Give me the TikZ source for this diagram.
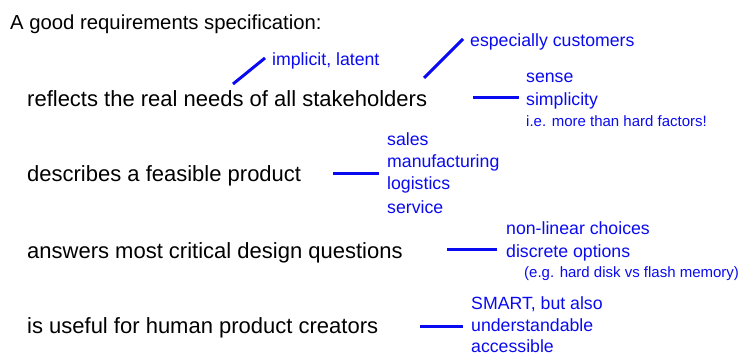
\documentclass[tikz,border=0pt]{standalone}
\usepackage{fontspec}
\setmainfont{Liberation Sans}
\definecolor{notecol}{RGB}{10,10,240}
\begin{document}
\begin{tikzpicture}[x=1pt,y=-1pt,
  title/.style={anchor=base west,inner sep=0pt,font=\fontsize{20.3}{24}\selectfont,text=black},
  main/.style={anchor=base west,inner sep=0pt,font=\fontsize{22}{26}\selectfont,text=black},
  note/.style={anchor=base west,inner sep=0pt,font=\fontsize{17.7}{22}\selectfont,text=notecol},
  small/.style={anchor=base west,inner sep=0pt,font=\fontsize{15}{18}\selectfont,text=notecol},
  link/.style={draw=notecol,line width=3pt}]
\useasboundingbox (0,0) rectangle (738,356);

\node[title] (title) at (10,29) {A good requirements specification:};

\node[main] (r1) at (27,106) {reflects the real needs of all stakeholders};
\node[main] (r2) at (27,181) {describes a feasible product};
\node[main] (r3) at (27,258) {answers most critical design questions};
\node[main] (r4) at (27,333) {is useful for human product creators};

\node[note] (implicit) at (272,65) {implicit, latent};
\node[note] (especially) at (470,46) {especially customers};
\node[note] (sense) at (526,82) {sense};
\node[note] (simplicity) at (526,105) {simplicity};
\node[small] (ie) at (526,126) {i.e. more than hard factors!};

\node[note] (sales) at (387,145) {sales};
\node[note] (manufacturing) at (387,167) {manufacturing};
\node[note] (logistics) at (387,189) {logistics};
\node[note] (service) at (387,213) {service};

\node[note] (nonlinear) at (506,234) {non-linear choices};
\node[note] (discrete) at (506,257) {discrete options};
\node[small] (eg) at (524,277) {(e.g. hard disk vs flash memory)};

\node[note] (smart) at (471,309) {SMART, but also};
\node[note] (understandable) at (471,331) {understandable};
\node[note] (accessible) at (471,352) {accessible};

\coordinate (a1) at (233,84);  \coordinate (a2) at (265,58);
\coordinate (b1) at (424,78);  \coordinate (b2) at (463,39);
\coordinate (c1) at (473,97);  \coordinate (c2) at (519,97);
\coordinate (d1) at (333,173); \coordinate (d2) at (379,173);
\coordinate (e1) at (447,249); \coordinate (e2) at (497,249);
\coordinate (f1) at (420,326); \coordinate (f2) at (463,326);

\draw[link] (a1) -- (a2);
\draw[link] (b1) -- (b2);
\draw[link] (c1) -- (c2);
\draw[link] (d1) -- (d2);
\draw[link] (e1) -- (e2);
\draw[link] (f1) -- (f2);
\end{tikzpicture}
\end{document}
